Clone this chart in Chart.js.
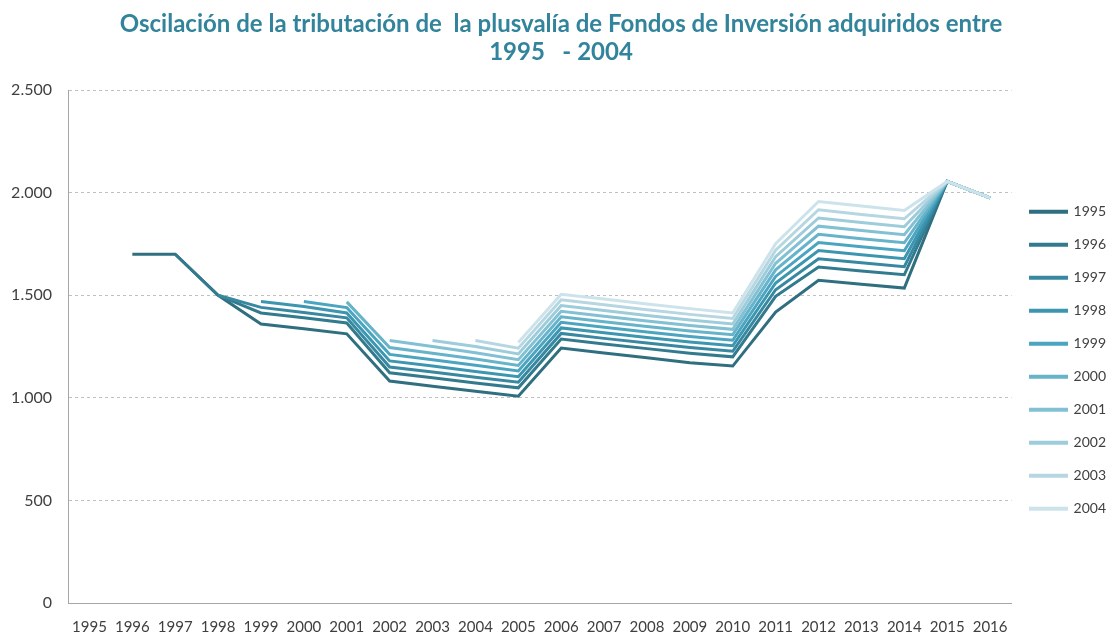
<!DOCTYPE html>
<html>
<head>
<meta charset="utf-8">
<script src="https://cdn.jsdelivr.net/npm/chart.js@4"></script>
<style>
  html, body { margin: 0; padding: 0; background: #fff; }
  #wrap { width: 1116px; height: 637px; }
</style>
</head>
<body>
<div id="wrap"><canvas id="chart"></canvas></div>
<script>
const years = ['1995','1996','1997','1998','1999','2000','2001','2002','2003','2004','2005',
               '2006','2007','2008','2009','2010','2011','2012','2013','2014','2015','2016'];

// one array per acquisition year (series), values per fiscal year
const s1995 = [null,1700,1700,1500,1360,1337,1312,1082,1057,1032,1008,1243,1219,1195,1171,1155,1418,1573,1554,1535,2055,1975];
const s1996 = [null,null,1700,1500,1414,1390,1365,1122,1098,1073,1049,1287,1263,1240,1218,1200,1495,1638,1619,1600,2055,1975];
const s1997 = [null,null,null,1500,1441,1416,1390,1150,1126,1101,1076,1314,1290,1267,1245,1227,1527,1678,1659,1639,2055,1975];
const s1998 = [null,null,null,null,1470,1445,1414,1180,1155,1129,1103,1341,1317,1294,1272,1254,1560,1718,1698,1678,2055,1975];
const s1999 = [null,null,null,null,null,1470,1440,1212,1186,1159,1131,1368,1344,1321,1299,1281,1592,1757,1737,1717,2055,1975];
const s2000 = [null,null,null,null,null,null,1468,1245,1217,1189,1158,1395,1371,1348,1326,1308,1624,1797,1776,1756,2055,1975];
const s2001 = [null,null,null,null,null,null,null,1280,1250,1220,1186,1422,1398,1375,1353,1334,1656,1837,1816,1795,2055,1975];
const s2002 = [null,null,null,null,null,null,null,null,1280,1250,1214,1450,1426,1402,1380,1360,1688,1877,1855,1834,2055,1975];
const s2003 = [null,null,null,null,null,null,null,null,null,1280,1242,1478,1454,1430,1407,1387,1720,1917,1894,1873,2055,1975];
const s2004 = [null,null,null,null,null,null,null,null,null,null,1270,1505,1482,1458,1435,1414,1752,1957,1935,1913,2055,1975];

const seriesNames = ['1995','1996','1997','1998','1999','2000','2001','2002','2003','2004'];
const seriesData = [s1995, s1996, s1997, s1998, s1999, s2000, s2001, s2002, s2003, s2004];
const seriesColors = ['#2f6f80','#327b8e','#3788a0','#3c96b0','#4ba5c0','#66b3ca','#82c0d3','#9dccda','#b6d7e2','#cce3eb'];

const yTicks = [0, 500, 1000, 1500, 2000, 2500];

const FONT = 'Lato, "Liberation Sans", sans-serif';

function fmt(v) {
    return String(v).replace(/\B(?=(\d{3})+(?!\d))/g, '.');
}

const datasets = seriesNames.map((name, i) => ({
    label: name,
    data: seriesData[i],
    borderColor: seriesColors[i],
    backgroundColor: seriesColors[i],
    borderWidth: 3,
    pointRadius: 0,
    tension: 0,
    spanGaps: false,
    order: seriesNames.length - i
}));

const ctx = document.getElementById('chart').getContext('2d');
new Chart(ctx, {
    type: 'line',
    data: { labels: years, datasets: datasets },
    options: {
        responsive: true,
        maintainAspectRatio: false,
        animation: false,
        layout: { padding: { left: 6, right: 0, top: 10, bottom: 1 } },
        plugins: {
            title: {
                display: true,
                text: ['Oscilación de la tributación de  la plusvalía de Fondos de Inversión adquiridos entre', '1995   - 2004'],
                color: '#31849b',
                font: { family: FONT, size: 24, weight: 'bold', lineHeight: 1.17 },
                padding: { top: 0, bottom: 24 }
            },
            legend: {
                position: 'right',
                align: 'center',
                title: { display: true, text: '', padding: { top: 60, bottom: 0 } },
                labels: {
                    boxWidth: 36,
                    boxHeight: 1,
                    padding: 19,
                    color: '#404040',
                    font: { family: FONT, size: 14 },
                    sort: (a, b) => a.datasetIndex - b.datasetIndex
                }
            },
            tooltip: { enabled: false }
        },
        scales: {
            x: {
                offset: true,
                grid: { display: false, drawTicks: false },
                border: { display: true, color: '#a6a6a6', width: 1 },
                ticks: {
                    color: '#404040',
                    font: { family: FONT, size: 15 },
                    padding: 15,
                    maxRotation: 0,
                    autoSkip: false
                },
                afterFit: (scale) => { scale.height = 33; }
            },
            y: {
                min: 0,
                max: 2500,
                afterBuildTicks: (axis) => { axis.ticks = yTicks.map(v => ({ value: v })); },
                afterFit: (scale) => { scale.width = 62; },
                grid: { color: '#c0c0c0', drawTicks: false },
                border: { display: true, color: '#a6a6a6', width: 1, dash: [3, 3] },
                ticks: {
                    color: '#404040',
                    font: { family: FONT, size: 16 },
                    padding: 16,
                    callback: (v) => fmt(v)
                }
            }
        }
    }
});
</script>
</body>
</html>
